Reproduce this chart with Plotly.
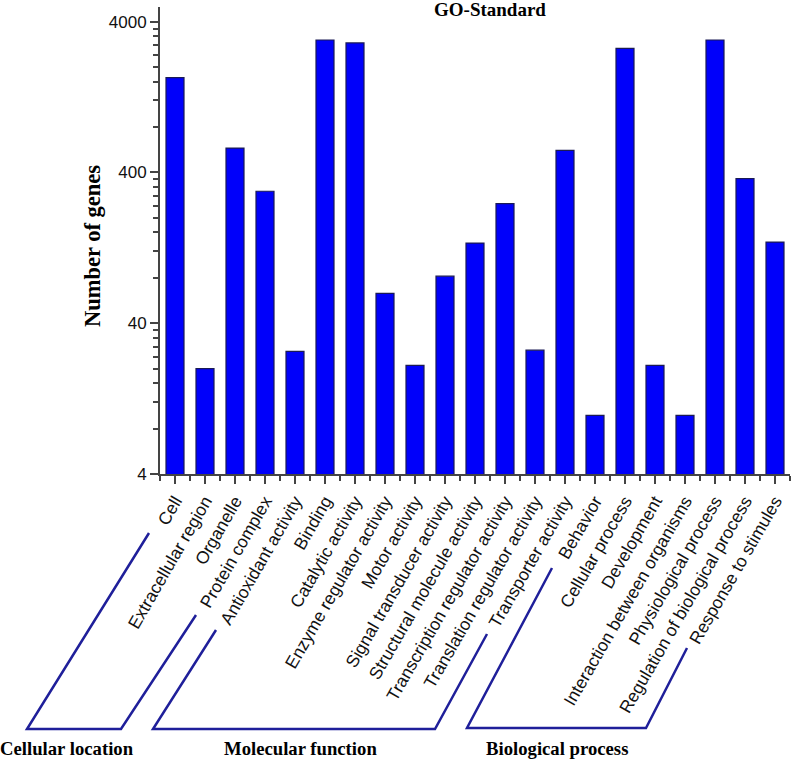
import math
import plotly.graph_objects as go

# ---------------- data ----------------
categories = [
    "Cell", "Extracellular region", "Organelle", "Protein complex",
    "Antioxidant activity", "Binding", "Catalytic activity",
    "Enzyme regulator activity", "Motor activity", "Signal transducer activity",
    "Structural molecule activity", "Transcription regulator activity",
    "Translation regulator activity", "Transporter activity", "Behavior",
    "Cellular process", "Development", "Interaction between organisms",
    "Physiological process", "Regulation of biological process",
    "Response to stimules",
]
gene_counts = [
    1700, 20, 580, 300, 26, 3020, 2890, 63, 21, 82, 136, 248, 26.5, 560,
    9.8, 2660, 21, 9.8, 3020, 364, 138,
]
y_tick_values = [4, 40, 400, 4000]
group_names = ["Cellular location", "Molecular function", "Biological process"]
chart_title = "GO-Standard"
y_title = "Number of genes"

# ---------------- layout helpers ----------------
W, H = 796, 760
L, R, T, B = 160, 6, 7, 286
PW, PH = W - L - R, H - T - B


def px(x):
    return (x - L) / PW


def py(y):
    return (H - B - y) / PH


idx = list(range(len(categories)))
minor_y = [t * k for t in y_tick_values[:-1] for k in range(2, 10)]
minor_x = [i - 0.5 for i in range(len(categories) + 1)]

fig = go.Figure(
    go.Bar(
        x=idx,
        y=gene_counts,
        width=0.6,
        marker=dict(color="rgb(0,0,250)", line=dict(color="#1a1a55", width=1.2)),
        hovertext=categories,
    )
)

axis_col = "#444444"
fig.update_xaxes(
    type="linear",
    range=[-0.5, len(categories) - 0.5],
    tickmode="array",
    tickvals=idx,
    ticktext=categories,
    tickangle=-60,
    ticks="outside",
    ticklen=8,
    tickwidth=1.5,
    tickcolor=axis_col,
    showline=True,
    linecolor=axis_col,
    linewidth=2,
    showgrid=False,
    zeroline=False,
    tickfont=dict(family="Liberation Sans, Arial", size=17.5, color="#111"),
    minor=dict(tickmode="array", tickvals=minor_x, ticks="outside", ticklen=5,
               tickwidth=1.5, tickcolor=axis_col, showgrid=False),
)
fig.update_yaxes(
    type="log",
    range=[math.log10(4), math.log10(5000)],
    tickmode="array",
    tickvals=y_tick_values,
    ticktext=[str(v) for v in y_tick_values],
    ticks="outside",
    ticklen=8,
    tickwidth=1.5,
    tickcolor=axis_col,
    showline=True,
    linecolor=axis_col,
    linewidth=2,
    showgrid=False,
    zeroline=False,
    tickfont=dict(family="Liberation Sans, Arial", size=17, color="#111"),
    minor=dict(tickmode="array", tickvals=minor_y, ticks="outside", ticklen=5,
               tickwidth=1.5, tickcolor=axis_col, showgrid=False),
)

serif_bold = dict(family="Liberation Serif, Times New Roman", color="#000")

annotations = [
    dict(text="<b>%s</b>" % chart_title, x=px(490), y=py(9), xref="paper", yref="paper",
         showarrow=False, xanchor="center", yanchor="middle",
         font=dict(size=19, **serif_bold)),
    dict(text="<b>%s</b>" % y_title, x=px(92), y=py(246), xref="paper", yref="paper",
         showarrow=False, xanchor="center", yanchor="middle", textangle=-90,
         font=dict(size=22.5, **serif_bold)),
]
group_label_pos = [(67, 748), (300, 748), (557, 748)]
for name, (gx, gy) in zip(group_names, group_label_pos):
    annotations.append(dict(text="<b>%s</b>" % name, x=px(gx), y=py(gy), xref="paper",
                            yref="paper", showarrow=False, xanchor="center",
                            yanchor="middle", font=dict(size=18.7, **serif_bold)))

# group brackets (decoration, pixel positions)
brackets = [
    [(149, 533), (27, 729), (121, 729), (196, 615)],
    [(216, 630), (153, 729), (435, 729), (487, 634)],
    [(552, 568), (467, 728), (646, 728), (687, 648)],
]
shapes = []
for pts in brackets:
    path = "M " + " L ".join("%f,%f" % (px(a), py(b)) for a, b in pts)
    shapes.append(dict(type="path", path=path, xref="paper", yref="paper",
                       line=dict(color="#1f1f9a", width=2.5)))

fig.update_layout(
    width=W, height=H,
    margin=dict(l=L, r=R, t=T, b=B, autoexpand=False),
    plot_bgcolor="white", paper_bgcolor="white",
    showlegend=False,
    bargap=0.4,
    annotations=annotations,
    shapes=shapes,
)

fig.write_html(
    "out.html",
    config={"displayModeBar": False},
    post_script="document.body.style.margin='0px';document.body.style.padding='0px';",
)
